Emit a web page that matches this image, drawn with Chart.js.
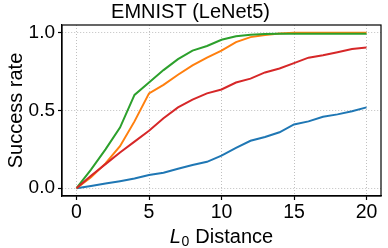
<!DOCTYPE html>
<html>
<head>
<meta charset="utf-8">
<script src="https://cdn.jsdelivr.net/npm/chart.js@4.4.1/dist/chart.umd.min.js"></script>
<style>
html,body{margin:0;padding:0;background:#fff;}
#wrap{width:388px;height:248px;position:relative;}
</style>
</head>
<body>
<div id="wrap"><canvas id="c" width="388" height="248"></canvas></div>
<script>
const distances = [0,1,2,3,4,5,6,7,8,9,10,11,12,13,14,15,16,17,18,19,20];
const seriesBlue   = [0,0.015,0.03,0.045,0.062,0.085,0.10,0.125,0.15,0.17,0.21,0.26,0.305,0.33,0.36,0.41,0.43,0.46,0.475,0.495,0.52];
const seriesOrange = [0,0.07,0.16,0.27,0.43,0.61,0.665,0.73,0.79,0.84,0.885,0.94,0.972,0.985,0.995,1.0,1.0,1.0,1.0,1.0,1.0];
const seriesGreen  = [0,0.12,0.25,0.39,0.60,0.68,0.76,0.83,0.885,0.915,0.955,0.978,0.988,0.992,0.993,0.993,0.993,0.993,0.993,0.993,0.993];
const seriesRed    = [0,0.08,0.155,0.23,0.30,0.37,0.45,0.52,0.57,0.61,0.635,0.68,0.705,0.745,0.77,0.805,0.84,0.855,0.875,0.895,0.905];
const xTicks = [0,5,10,15,20];
const yTicks = [0,0.5,1.0];
const titleText = 'EMNIST (LeNet5)';
const yLabel = 'Success rate';
const xLabelItalic = 'L';
const xLabelSub = '0';
const xLabelRest = ' Distance';

const FONT = 'Liberation Sans, Arial, sans-serif';
const pts = arr => distances.map((d,i)=>({x:d,y:arr[i]}));

const framePlugin = {
  id:'frame',
  afterDraw(chart){
    const {ctx, chartArea:a} = chart;
    ctx.save();
    ctx.strokeStyle = '#000';
    ctx.lineWidth = 1.2;
    ctx.strokeRect(a.left, a.top, a.right-a.left, a.bottom-a.top);
    ctx.fillStyle = '#000';
    ctx.textBaseline = 'alphabetic';
    const base = 242.5;
    const f1 = 'italic 20px ' + FONT;
    const f2 = '14px ' + FONT;
    const f3 = '20px ' + FONT;
    ctx.font = f1; const w1 = ctx.measureText(xLabelItalic).width;
    ctx.font = f2; const w2 = ctx.measureText(xLabelSub).width;
    ctx.font = f3; const w3 = ctx.measureText(xLabelRest).width;
    const total = w1 + w2 + 1 + w3;
    let x = (a.left + a.right)/2 - total/2;
    ctx.font = f1; ctx.fillText(xLabelItalic, x, base); x += w1 + 0.5;
    ctx.font = f2; ctx.fillText(xLabelSub, x, base + 3); x += w2 + 0.5;
    ctx.font = f3; ctx.fillText(xLabelRest, x, base);
    ctx.restore();
  }
};

const ds = (label, data, color, order) => ({
  label, data: pts(data), borderColor: color, backgroundColor: color,
  borderWidth: 2, pointRadius: 0, tension: 0, fill: false, order
});

new Chart(document.getElementById('c'), {
  type: 'line',
  data: {
    datasets: [
      ds('blue', seriesBlue, '#1f77b4', 4),
      ds('orange', seriesOrange, '#ff7f0e', 3),
      ds('green', seriesGreen, '#2ca02c', 2),
      ds('red', seriesRed, '#d62728', 1)
    ]
  },
  options: {
    responsive: false,
    animation: false,
    devicePixelRatio: 1,
    layout: { padding: { left: 0, right: 7, top: 0, bottom: 0 } },
    plugins: {
      legend: { display: false },
      tooltip: { enabled: false },
      title: {
        display: true, text: titleText, color: '#000',
        font: { family: FONT, size: 20, weight: 'normal' },
        padding: { top: 0, bottom: 1 }
      }
    },
    scales: {
      x: {
        type: 'linear', min: -1, max: 21,
        afterBuildTicks: s => { s.ticks = xTicks.map(v=>({value:v})); },
        afterFit: s => { s.height = 52; },
        ticks: { color:'#000', font:{family:FONT, size:19.5}, padding: 1, maxRotation:0, autoSkip:false },
        grid: { color:'#b0b0b0', lineWidth:0.8, drawTicks:true, tickLength:4, tickColor:'#000', tickWidth:1.2 },
        border: { display:true, color:'#000', width:1.2, dash:[1,2] }
      },
      y: {
        type: 'linear', min: -0.05, max: 1.05,
        afterBuildTicks: s => { s.ticks = yTicks.map(v=>({value:v})); },
        afterFit: s => { s.width = 62; },
        ticks: { color:'#000', font:{family:FONT, size:19}, padding: 3, callback: v => v.toFixed(1) },
        grid: { color:'#b0b0b0', lineWidth:0.8, drawTicks:true, tickLength:4, tickColor:'#000', tickWidth:1.2 },
        border: { display:true, color:'#000', width:1.2, dash:[1,2] },
        title: { display:true, text:yLabel, color:'#000', font:{family:FONT, size:20}, padding:{top:4,bottom:0} }
      }
    }
  },
  plugins: [framePlugin]
});
</script>
</body>
</html>
